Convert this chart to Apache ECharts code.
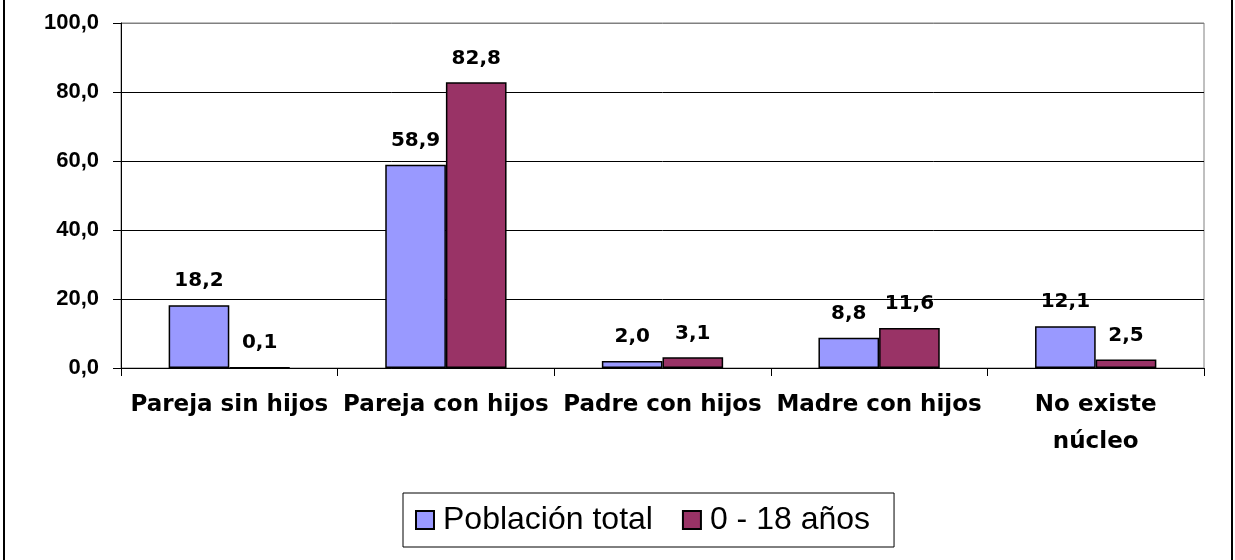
<!DOCTYPE html>
<html>
<head>
<meta charset="utf-8">
<script src="https://cdn.jsdelivr.net/npm/echarts@6/dist/echarts.min.js"></script>
<style>
  html, body { margin: 0; padding: 0; background: #fff; }
  #main { width: 1235px; height: 560px; }
</style>
</head>
<body>
<div id="main"></div>
<script>
// datos
var categorias = ['Pareja sin hijos', 'Pareja con hijos', 'Padre con hijos', 'Madre con hijos', 'No existe\nnúcleo'];
var poblacionTotal = [18.2, 58.9, 2.0, 8.8, 12.1];
var menores = [0.1, 82.8, 3.1, 11.6, 2.5];
var nombres = ['Población total', '0 - 18 años'];

function coma(v) { return v.toFixed(1).replace('.', ','); }

var myChart = echarts.init(document.getElementById('main'));

var etiqueta = {
  show: true,
  position: 'top',
  distance: 14,
  color: '#000',
  fontFamily: 'DejaVu Sans',
  fontWeight: 'bold',
  fontSize: 20,
  formatter: function (p) { return coma(p.value); }
};

var option = {
  backgroundColor: '#fff',
  animation: false,
  grid: {
    left: 121, right: 31, top: 23, bottom: 192,
    show: true, borderColor: '#808080', borderWidth: 1
  },
  legend: {
    data: nombres,
    left: 403, top: 493,
    orient: 'horizontal',
    borderColor: '#000', borderWidth: 1,
    padding: [11, 24, 11, 12],
    itemWidth: 18, itemHeight: 18, itemGap: 29,
    icon: 'rect',
    textStyle: { fontFamily: 'Liberation Sans', fontSize: 32, color: '#000', padding: [0, 0, 0, 4] }
  },
  xAxis: {
    type: 'category',
    data: categorias,
    axisLine: { lineStyle: { color: '#000', width: 1 } },
    axisTick: { show: true, length: 8, lineStyle: { color: '#000' } },
    axisLabel: {
      color: '#000', fontFamily: 'DejaVu Sans', fontWeight: 'bold',
      fontSize: 23, lineHeight: 37, margin: 19, interval: 0
    }
  },
  yAxis: {
    type: 'value',
    min: 0, max: 100, interval: 20,
    axisLine: { show: true, lineStyle: { color: '#000' } },
    axisTick: { show: true, length: 8, lineStyle: { color: '#000' } },
    axisLabel: {
      color: '#000', fontFamily: 'Liberation Sans', fontWeight: 'bold',
      fontSize: 22, margin: 22,
      formatter: function (v) { return coma(v); }
    },
    splitLine: { lineStyle: { color: ['#000', '#000', '#000', '#000', '#000', '#808080'], width: 1 } }
  },
  series: [
    {
      name: nombres[0], type: 'bar', data: poblacionTotal,
      barGap: '0%', barCategoryGap: '44%',
      itemStyle: { color: '#9999FF', borderColor: '#000', borderWidth: 1.5 },
      label: etiqueta
    },
    {
      name: nombres[1], type: 'bar', data: menores,
      itemStyle: { color: '#993366', borderColor: '#000', borderWidth: 1.5 },
      label: etiqueta
    }
  ],
  graphic: [
    { type: 'line', shape: { x1: 4, y1: 0, x2: 4, y2: 560 }, style: { stroke: '#000', lineWidth: 2 } },
    { type: 'line', shape: { x1: 1232, y1: 0, x2: 1232, y2: 560 }, style: { stroke: '#000', lineWidth: 2 } }
  ]
};

myChart.setOption(option);
</script>
</body>
</html>
